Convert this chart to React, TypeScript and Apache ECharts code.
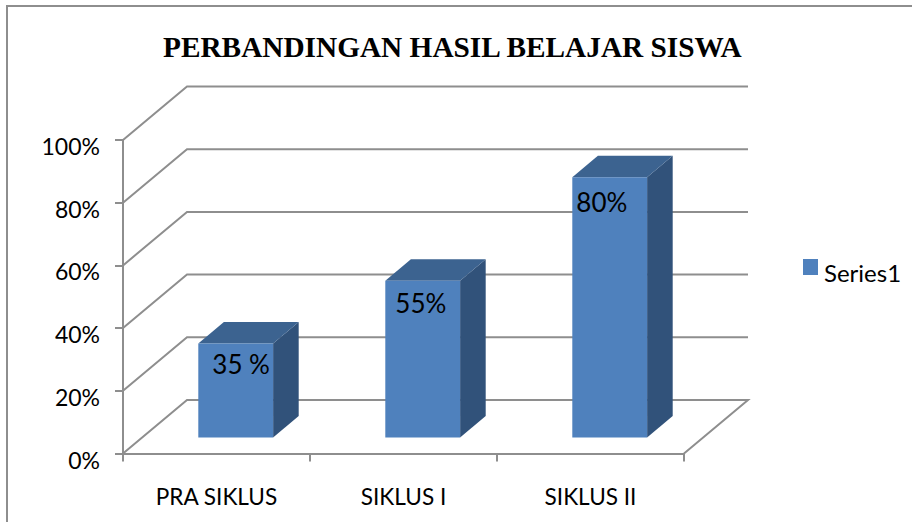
import React, { useEffect, useRef } from "react";
import * as echarts from "echarts";

const categories = ["PRA SIKLUS", "SIKLUS I", "SIKLUS II"];
const barValues = [0.3, 0.5, 0.83];
const barLabels = ["35 %", "55%", "80%"];
const gridTicks = [0, 0.2, 0.4, 0.6, 0.8, 1];
const seriesName = "Series1";
const titleText = "PERBANDINGAN HASIL BELAJAR SISWA";

const GRAY = "#8e8e8e";
const DEPTH_X = 64;
const DEPTH_Y = -53.5;

export default function App() {
  const ref = useRef<HTMLDivElement>(null);
  useEffect(() => {
    document.body.style.margin = "0";
    const chart = echarts.init(ref.current!, null, { renderer: "svg" });
    chart.setOption({
      animation: false,
      backgroundColor: "#ffffff",
      title: {
        text: titleText,
        left: 163,
        top: 32,
        padding: 0,
        textStyle: { fontFamily: "Liberation Serif", fontWeight: "bold", fontSize: 29.3, color: "#000" },
      },
      legend: {
        data: [seriesName],
        left: 803,
        top: 259,
        padding: 0,
        itemWidth: 15,
        itemHeight: 16,
        itemGap: 0,
        icon: "rect",
        formatter: (n: string) => `{a|${n}}`,
        textStyle: {
          rich: { a: { fontFamily: "Lato", fontSize: 24, color: "#000", lineHeight: 34, verticalAlign: "bottom", padding: [0, 0, 0, 1] } },
        },
      },
      grid: { left: 123, top: 140, width: 561, height: 313.5 },
      xAxis: {
        type: "category",
        data: categories,
        axisLine: { lineStyle: { color: GRAY, width: 2 } },
        axisTick: { show: true, alignWithLabel: false, length: 8, lineStyle: { color: GRAY, width: 2 } },
        axisLabel: { fontFamily: "Lato", fontSize: 22.6, color: "#000", margin: 31 },
      },
      yAxis: {
        type: "value",
        min: 0,
        max: 1,
        interval: 0.2,
        splitLine: { show: false },
        axisLine: { show: true, lineStyle: { color: GRAY, width: 2 } },
        axisTick: { show: true, length: 8, lineStyle: { color: GRAY, width: 2 } },
        axisLabel: {
          margin: 23,
          formatter: (v: number) => `{a|${Math.round(v * 100)}%}`,
          rich: { a: { fontFamily: "Lato", fontSize: 23, color: "#000", lineHeight: 35, verticalAlign: "bottom" } },
        },
      },
      graphic: [
        {
          type: "polyline",
          silent: true,
          z: 10,
          shape: { points: [[7, 522], [7, 6], [912, 6]] },
          style: { stroke: GRAY, lineWidth: 2, fill: "none" },
        },
      ],
      series: [
        {
          type: "custom",
          name: "walls",
          coordinateSystem: "cartesian2d",
          data: gridTicks.map((t) => [0, t]),
          z: 1,
          silent: true,
          renderItem: (params: any, api: any) => {
            const y = api.coord([0, api.value(1)])[1];
            const x0 = params.coordSys.x;
            const x1 = x0 + params.coordSys.width;
            const pts: number[][] = [
              [x0, y],
              [x0 + DEPTH_X, y + DEPTH_Y],
              [x1 + DEPTH_X, y + DEPTH_Y],
            ];
            if (api.value(1) === 0) pts.push([x1, y]);
            return {
              type: "polyline",
              shape: { points: pts },
              style: { stroke: GRAY, lineWidth: 2, fill: "none" },
            };
          },
        },
        {
          type: "custom",
          name: seriesName,
          coordinateSystem: "cartesian2d",
          itemStyle: { color: "#4f81bd" },
          data: barValues.map((v, i) => [i, v, barLabels[i]]),
          z: 2,
          silent: true,
          renderItem: (params: any, api: any) => {
            const i = api.value(0);
            const base = api.coord([i, 0]);
            const top = api.coord([i, api.value(1)]);
            const w = api.size([1, 0])[0] * 0.4;
            const fx = 0.3 * DEPTH_X;
            const fy = 0.3 * DEPTH_Y;
            const ox = 0.4 * DEPTH_X;
            const oy = 0.4 * DEPTH_Y;
            const l = base[0] - w / 2 + fx;
            const r = l + w;
            const b = base[1] + fy;
            const t = top[1] + fy;
            return {
              type: "group",
              children: [
                {
                  type: "polygon",
                  shape: { points: [[r, t], [r + ox, t + oy], [r + ox, b + oy], [r, b]] },
                  style: { fill: "#31527a" },
                },
                {
                  type: "polygon",
                  shape: { points: [[l, t], [l + ox, t + oy], [r + ox, t + oy], [r, t]] },
                  style: { fill: "#3c6390" },
                },
                {
                  type: "rect",
                  shape: { x: l, y: t, width: w, height: b - t },
                  style: { fill: "#4f81bd" },
                },
                {
                  type: "text",
                  x: i === 0 ? l + 14 : l + 2 + (i === 1 ? 8 : 2),
                  y: t + (i === 0 ? 21 : i === 1 ? 22 : 25),
                  style: {
                    text: barLabels[i],
                    fontFamily: "Lato",
                    fontSize: 26,
                    fill: "#000",
                    textVerticalAlign: "middle",
                    verticalAlign: "middle",
                  },
                },
              ],
            };
          },
        },
      ],
    });
    return () => chart.dispose();
  }, []);
  return <div ref={ref} style={{ width: 912, height: 522 }} />;
}
